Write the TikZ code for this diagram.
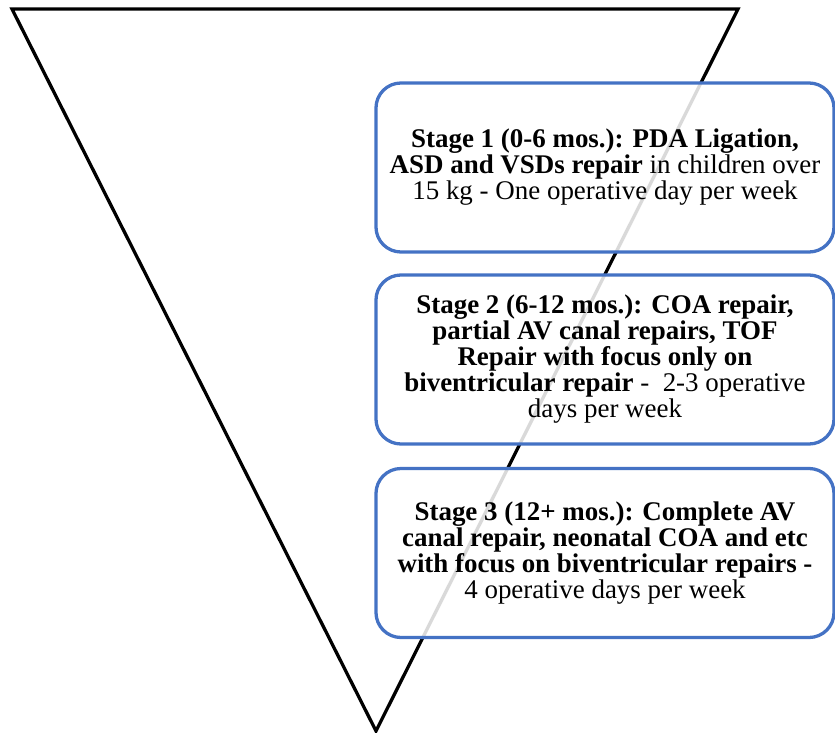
\documentclass[tikz,border=0pt]{standalone}
\usepackage{fontspec}
\newfontfamily\stagefont{Liberation Serif}
\usepackage{xcolor}
\definecolor{stageblue}{HTML}{4472C4}

\begin{document}
\begin{tikzpicture}[x=0.03cm, y=-0.03cm,
    stagebox/.style={draw=stageblue, line width=2.8pt, rounded corners=0.75cm,
        fill=white, fill opacity=0.85, text opacity=1, align=center,
        minimum width=13.74cm, minimum height=5.07cm,
        font=\stagefont\fontsize{23}{22.2}\selectfont}]
    \useasboundingbox (0,0) rectangle (835,733);
    % funnel
    \coordinate (tl) at (12,9);
    \coordinate (tr) at (738,9);
    \coordinate (tip) at (376,731);
    \draw[line width=2.8pt] (tl) -- (tr) -- (tip) -- cycle;
    % stages
    \node[stagebox] (s1) at (605,167.5) {\textbf{Stage 1 (0-6 mos.): PDA Ligation,}\\
        \textbf{ASD and VSDs repair} in children over\\ 15 kg - One operative day per week};
    \node[stagebox] (s2) at (605,359.5) {\textbf{Stage 2 (6-12 mos.): COA repair,}\\
        \textbf{partial AV canal repairs, TOF}\\ \textbf{Repair with focus only on}\\
        \textbf{biventricular repair} -\ \ 2-3 operative\\ days per week};
    \node[stagebox] (s3) at (605,553) {\textbf{Stage 3 (12+ mos.): Complete AV}\\
        \textbf{canal repair, neonatal COA and etc}\\
        \textbf{with focus on biventricular repairs -}\\ 4 operative days per week};
\end{tikzpicture}
\end{document}
